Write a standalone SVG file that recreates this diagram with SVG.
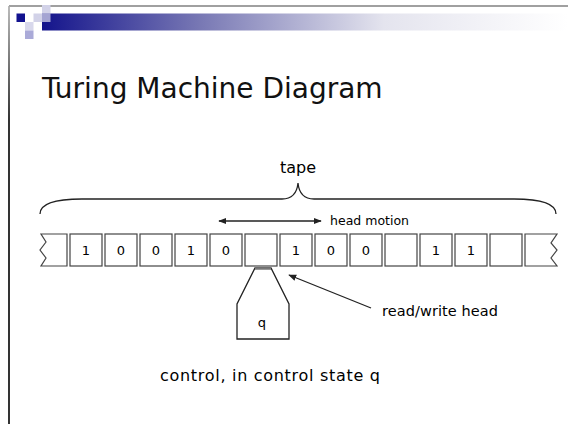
<svg xmlns="http://www.w3.org/2000/svg" width="568" height="424" viewBox="0 0 568 424">
<style>
.cell{fill:#fff;stroke:#444;stroke-width:1.2}
.dig{font-family:"DejaVu Sans",sans-serif;font-size:13px;fill:#000;text-anchor:middle}
.lbl{font-family:"DejaVu Sans",sans-serif;fill:#000}
.ln{fill:none;stroke:#222;stroke-width:1.3}
</style>
<defs>
<linearGradient id="bar" x1="42" y1="0" x2="568" y2="0" gradientUnits="userSpaceOnUse">
<stop offset="0" stop-color="#14148c"/>
<stop offset="0.3" stop-color="#7878b4"/>
<stop offset="0.65" stop-color="#e4e4ee"/>
<stop offset="1" stop-color="#ffffff"/>
</linearGradient>
<linearGradient id="vl" x1="0" y1="6" x2="0" y2="120" gradientUnits="userSpaceOnUse">
<stop offset="0" stop-color="#aaaaaa"/>
<stop offset="1" stop-color="#000000"/>
</linearGradient>
<marker id="ah" viewBox="0 0 10 10" refX="9" refY="5" markerWidth="8" markerHeight="8" markerUnits="userSpaceOnUse" orient="auto-start-reverse">
<path d="M0,1 L10,5 L0,9 Z" fill="#222"/>
</marker>
</defs>
<rect width="568" height="424" fill="#fff"/>
<g id="slide-frame">
<line x1="9" y1="6" x2="568" y2="6" stroke="#808080" stroke-width="1.6"/>
<line x1="9" y1="6" x2="9" y2="424" stroke="url(#vl)" stroke-width="1.6"/>
<rect x="42" y="13.5" width="526" height="17" fill="url(#bar)"/>
<rect x="16.5" y="13.5" width="8.5" height="8.5" fill="#12128f"/>
<rect x="33.5" y="13.5" width="8.5" height="8.5" fill="#d2d2e8"/>
<rect x="42" y="5" width="8.5" height="8.5" fill="#d2d2e8"/>
<rect x="42" y="13.5" width="8.5" height="8.5" fill="#a4a4d2"/>
<rect x="25" y="22" width="8.5" height="8.5" fill="#d8d8ec"/>
<rect x="25" y="30.5" width="8.5" height="8.5" fill="#aaaad8"/>
</g>
<text id="title" x="42" y="98" font-family="'DejaVu Sans',sans-serif" font-size="28" fill="#111">Turing Machine Diagram</text>
<g id="tape-label">
<path class="ln" d="M40,214 C40,204 55,199 82,199 L282,199 C292,199 297,193 298,183 C299,193 304,199 314,199 L514,199 C541,199 556,204 556,214"/>
<text class="lbl" x="298" y="173" font-size="16" text-anchor="middle">tape</text>
</g>
<g id="tape">
<path class="cell" d="M41,234 L67,234 L67,266 L41,266 L46,258 L40,250 L46,242 Z"/>
<rect class="cell" x="70" y="234" width="32" height="32"/>
<rect class="cell" x="105" y="234" width="32" height="32"/>
<rect class="cell" x="140" y="234" width="32" height="32"/>
<rect class="cell" x="175" y="234" width="32" height="32"/>
<rect class="cell" x="210" y="234" width="32" height="32"/>
<rect class="cell" x="245" y="234" width="32" height="32"/>
<rect class="cell" x="280" y="234" width="32" height="32"/>
<rect class="cell" x="315" y="234" width="32" height="32"/>
<rect class="cell" x="350" y="234" width="32" height="32"/>
<rect class="cell" x="385" y="234" width="32" height="32"/>
<rect class="cell" x="420" y="234" width="32" height="32"/>
<rect class="cell" x="455" y="234" width="32" height="32"/>
<rect class="cell" x="490" y="234" width="32" height="32"/>
<path class="cell" d="M525,234 L557,234 L551,243 L557,250 L551,258 L557,266 L525,266 Z"/>
<text class="dig" x="86" y="255">1</text>
<text class="dig" x="121" y="255">0</text>
<text class="dig" x="156" y="255">0</text>
<text class="dig" x="191" y="255">1</text>
<text class="dig" x="226" y="255">0</text>
<text class="dig" x="296" y="255">1</text>
<text class="dig" x="331" y="255">0</text>
<text class="dig" x="366" y="255">0</text>
<text class="dig" x="436" y="255">1</text>
<text class="dig" x="471" y="255">1</text>
</g>
<g id="control">
<polygon points="255,268 271,268 289,304 289,339 237,339 237,304" fill="#fff" stroke="#222" stroke-width="1.3"/>
<line x1="255" y1="268.5" x2="271" y2="268.5" stroke="#777" stroke-width="2.5"/>
<text class="dig" x="262" y="327">q</text>
</g>
<g id="connectors">
<line class="ln" x1="219" y1="221" x2="321" y2="221" marker-start="url(#ah)" marker-end="url(#ah)"/>
<line class="ln" x1="371" y1="308" x2="289" y2="275" marker-end="url(#ah)"/>
</g>
<text class="lbl" x="330" y="225" font-size="12.5" textLength="79">head motion</text>
<text class="lbl" x="382" y="316" font-size="14.5" textLength="116">read/write head</text>
<text class="lbl" x="160" y="381" font-size="16" textLength="220">control, in control state q</text>
</svg>
